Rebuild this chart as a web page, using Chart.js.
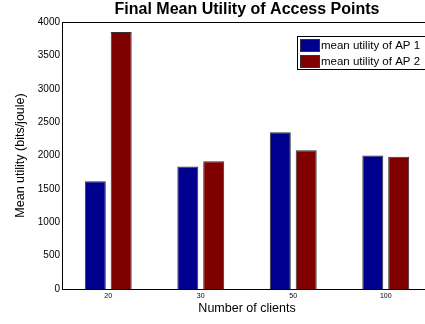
<!DOCTYPE html>
<html lang="en">

<head>
    <meta charset="UTF-8">
    <title>Final Mean Utility of Access Points</title>
    <script src="https://cdn.jsdelivr.net/npm/chart.js"></script>
    <style>
        html, body { margin: 0; padding: 0; background: #fff; overflow: hidden; }
        #wrap { width: 425px; height: 324px; overflow: hidden; position: relative; }
        canvas { display: block; }
    </style>
</head>

<body>
    <div id="wrap">
        <canvas id="utilChart" width="440" height="324" style="width:440px;height:324px"></canvas>
    </div>

    <script>
        const clients = ['20', '30', '50', '100'];
        const ap1Utility = [1615, 1835, 2350, 2000];
        const ap2Utility = [3850, 1915, 2080, 1982];
        const yTicks = [0, 500, 1000, 1500, 2000, 2500, 3000, 3500, 4000];

        const FONT = 'Liberation Sans, Arial, Helvetica, sans-serif';

        // matlab style box round the axes + boxed legend
        const boxPlugin = {
            id: 'matlabBox',
            afterDraw(chart) {
                const ctx = chart.ctx;
                const a = chart.chartArea;
                ctx.save();
                ctx.strokeStyle = '#000';
                ctx.lineWidth = 1;
                ctx.strokeRect(Math.round(a.left) + 0.5, Math.round(a.top) + 0.5,
                    Math.round(a.right - a.left), Math.round(a.bottom - a.top));

                // legend
                const lx = 297, ly = 36, lw = 140, lh = 33;
                ctx.fillStyle = '#fff';
                ctx.fillRect(lx, ly, lw, lh);
                ctx.strokeRect(lx + 0.5, ly + 0.5, lw, lh);
                ctx.font = '11.5px ' + FONT;
                ctx.textBaseline = 'middle';
                chart.data.datasets.forEach((ds, i) => {
                    const y = ly + 3 + i * 16;
                    ctx.fillStyle = ds.backgroundColor;
                    ctx.fillRect(300, y, 19, 12);
                    ctx.strokeStyle = '#333';
                    ctx.strokeRect(300.5, y + 0.5, 19, 12);
                    ctx.fillStyle = '#000';
                    ctx.fillText(ds.label, 321, y + 6.5);
                });
                ctx.restore();
            }
        };

        const ctx = document.getElementById('utilChart').getContext('2d');
        const chart = new Chart(ctx, {
            type: 'bar',
            data: {
                labels: clients,
                datasets: [{
                    label: 'mean utility of AP 1',
                    data: ap1Utility,
                    backgroundColor: '#00008f',
                    borderColor: '#333333',
                    borderWidth: 1,
                    categoryPercentage: 0.56,
                    barPercentage: 0.81
                }, {
                    label: 'mean utility of AP 2',
                    data: ap2Utility,
                    backgroundColor: '#800000',
                    borderColor: '#333333',
                    borderWidth: 1,
                    categoryPercentage: 0.56,
                    barPercentage: 0.81
                }]
            },
            options: {
                responsive: false,
                animation: false,
                layout: { padding: { left: 0, right: 8, top: 0, bottom: 0 } },
                plugins: {
                    legend: { display: false },
                    tooltip: { enabled: false },
                    title: {
                        display: true,
                        text: 'Final Mean Utility of Access Points',
                        fullSize: false,
                        color: '#000',
                        font: { family: FONT, size: 16, weight: 'bold', lineHeight: 1 },
                        padding: { top: 2, bottom: 4 }
                    }
                },
                scales: {
                    x: {
                        grid: { display: false, drawTicks: false },
                        border: { display: true, color: '#000', width: 1 },
                        ticks: {
                            color: '#000',
                            font: { family: FONT, size: 7 },
                            padding: 3,
                            maxRotation: 0
                        },
                        title: {
                            display: true,
                            text: 'Number of clients',
                            color: '#000',
                            font: { family: FONT, size: 12.5 },
                            padding: { top: 0, bottom: 8 }
                        },
                        afterFit(scale) { scale.height = 35; }
                    },
                    y: {
                        min: 0,
                        max: 4000,
                        afterBuildTicks(scale) { scale.ticks = yTicks.map(v => ({ value: v })); },
                        grid: { display: false, drawTicks: false },
                        border: { display: true, color: '#000', width: 1 },
                        ticks: {
                            color: '#000',
                            font: { family: FONT, size: 10 },
                            padding: 2,
                            callback: v => String(v)
                        },
                        title: {
                            display: true,
                            text: 'Mean utility (bits/joule)',
                            color: '#000',
                            font: { family: FONT, size: 12.5 },
                            padding: { top: 13.5, bottom: 0 }
                        },
                        afterFit(scale) { scale.width = 62; }
                    }
                }
            },
            plugins: [boxPlugin]
        });
    </script>
</body>

</html>
